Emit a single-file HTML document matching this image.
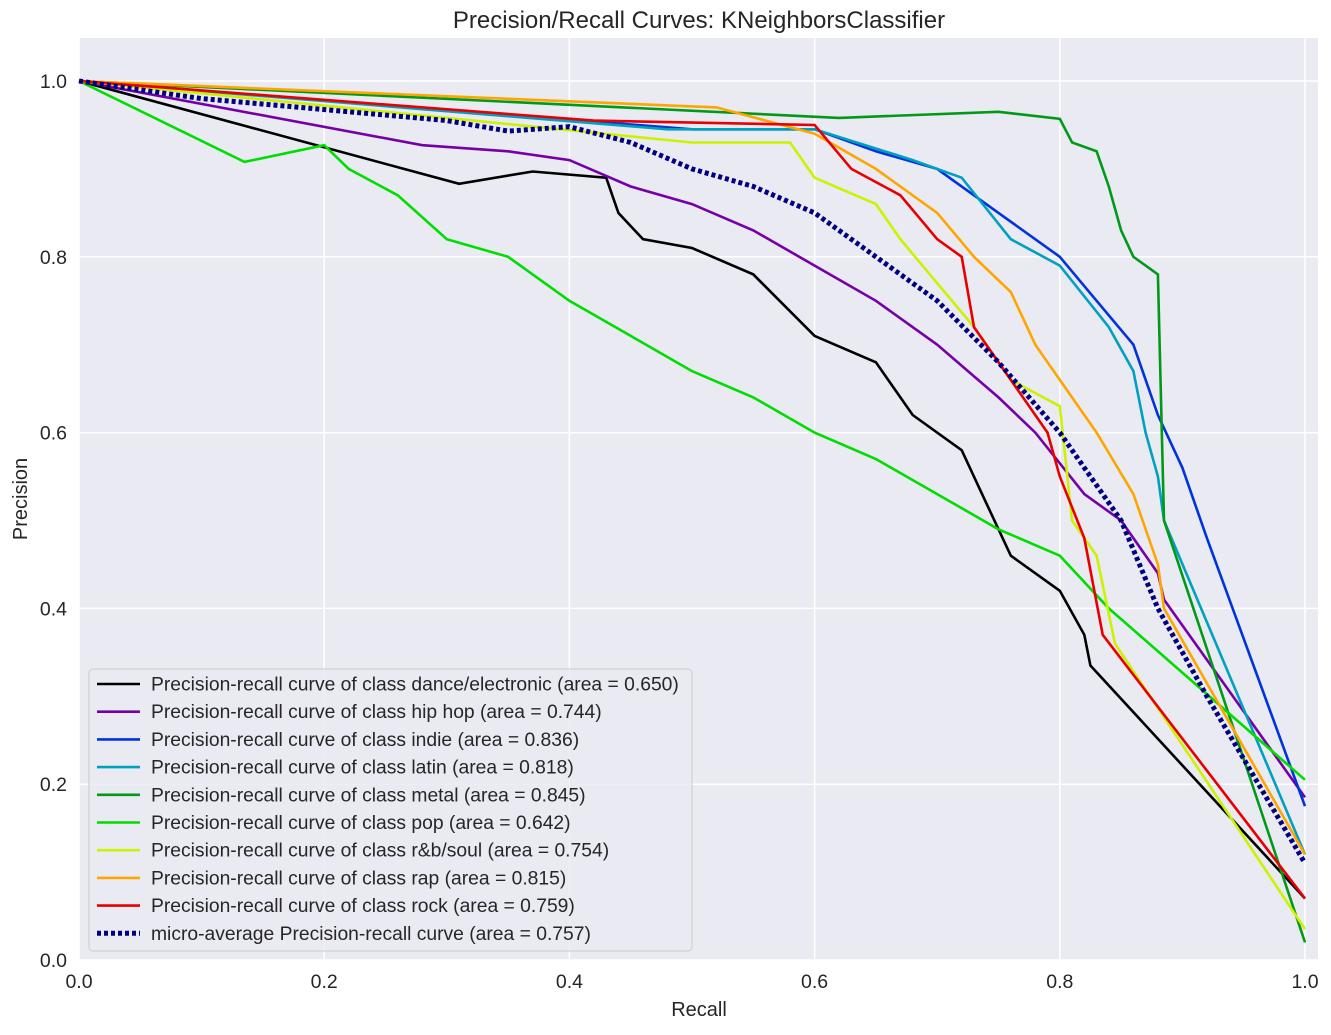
<!DOCTYPE html>
<html><head><meta charset="utf-8"><style>
body{margin:0;background:#fff;font-family:"Liberation Sans","DejaVu Sans",sans-serif}
svg text{font-family:"Liberation Sans","DejaVu Sans",sans-serif;fill:#262626}
</style></head><body>
<svg id="chart" width="1331" height="1030" xmlns="http://www.w3.org/2000/svg">
<rect width="1331" height="1030" fill="#fff"/>
<rect x="79" y="38" width="1239" height="922" fill="#eaeaf2"/>
<g id="grid"></g>
<g id="series"></g>
<text x="699" y="28" font-size="24" text-anchor="middle">Precision/Recall Curves: KNeighborsClassifier</text>
<text x="699" y="1016" font-size="20" text-anchor="middle">Recall</text>
<text transform="translate(27,499) rotate(-90)" font-size="20" text-anchor="middle">Precision</text>
<g id="ticks"></g>
<g id="legend"></g>
</svg>
<script>
const xTicks=[0,0.2,0.4,0.6,0.8,1.0];
const yTicks=[0,0.2,0.4,0.6,0.8,1.0];
const seriesNames=["dance/electronic","hip hop","indie","latin","metal","pop","r&b/soul","rap","rock"];
const seriesAreas=["0.650","0.744","0.836","0.818","0.845","0.642","0.754","0.815","0.759"];
const microArea="0.757";
const dance=[[0,1],[0.31,0.883],[0.37,0.897],[0.43,0.89],[0.44,0.85],[0.46,0.82],[0.5,0.81],[0.55,0.78],[0.6,0.71],[0.65,0.68],[0.68,0.62],[0.72,0.58],[0.74,0.52],[0.76,0.46],[0.8,0.42],[0.82,0.37],[0.825,0.335],[1.0,0.07]];
const hiphop=[[0,1],[0.28,0.927],[0.35,0.92],[0.4,0.91],[0.45,0.88],[0.5,0.86],[0.55,0.83],[0.6,0.79],[0.65,0.75],[0.7,0.70],[0.75,0.64],[0.78,0.6],[0.82,0.53],[0.85,0.5],[0.88,0.44],[0.885,0.41],[1.0,0.185]];
const indie=[[0,1],[0.5,0.945],[0.6,0.945],[0.65,0.92],[0.7,0.9],[0.75,0.85],[0.8,0.8],[0.83,0.75],[0.86,0.7],[0.88,0.62],[0.9,0.56],[0.92,0.48],[1.0,0.175]];
const latin=[[0,1],[0.48,0.945],[0.6,0.945],[0.68,0.91],[0.72,0.89],[0.76,0.82],[0.8,0.79],[0.84,0.72],[0.86,0.67],[0.87,0.6],[0.88,0.55],[0.885,0.5],[1.0,0.12]];
const metal=[[0,1],[0.62,0.958],[0.75,0.965],[0.8,0.957],[0.81,0.93],[0.83,0.92],[0.84,0.88],[0.85,0.83],[0.86,0.8],[0.88,0.78],[0.885,0.5],[1.0,0.02]];
const pop=[[0,1],[0.135,0.908],[0.2,0.927],[0.22,0.9],[0.26,0.87],[0.3,0.82],[0.35,0.8],[0.4,0.75],[0.45,0.71],[0.5,0.67],[0.55,0.64],[0.6,0.6],[0.65,0.57],[0.7,0.53],[0.75,0.49],[0.8,0.46],[0.84,0.4],[1.0,0.205]];
const rnb=[[0,1],[0.5,0.93],[0.58,0.93],[0.6,0.89],[0.65,0.86],[0.67,0.82],[0.7,0.77],[0.73,0.72],[0.76,0.66],[0.8,0.63],[0.81,0.5],[0.83,0.46],[0.845,0.36],[1.0,0.035]];
const rap=[[0,1],[0.52,0.97],[0.6,0.94],[0.65,0.9],[0.7,0.85],[0.73,0.8],[0.76,0.76],[0.78,0.7],[0.8,0.66],[0.83,0.6],[0.86,0.53],[0.88,0.45],[0.885,0.4],[1.0,0.12]];
const rock=[[0,1],[0.42,0.955],[0.6,0.95],[0.63,0.9],[0.67,0.87],[0.7,0.82],[0.72,0.8],[0.73,0.72],[0.76,0.66],[0.79,0.6],[0.8,0.55],[0.82,0.48],[0.835,0.37],[1.0,0.07]];
const micro=[[0,1],[0.1,0.98],[0.3,0.955],[0.35,0.943],[0.4,0.948],[0.45,0.93],[0.5,0.9],[0.55,0.88],[0.6,0.85],[0.65,0.8],[0.7,0.75],[0.75,0.68],[0.8,0.6],[0.85,0.5],[0.88,0.4],[0.92,0.3],[1.0,0.11]];
const allSeries=[dance,hiphop,indie,latin,metal,pop,rnb,rap,rock];
const colors=["#000000","#7600a8","#0033dd","#00a0c0","#009a18","#00dd00","#ccf200","#ffa500","#e80000"];

const NS="http://www.w3.org/2000/svg";
const X=v=>79+v*1226;
const Y=v=>960-v*879;
function mk(tag,attrs,parent){const e=document.createElementNS(NS,tag);for(const k in attrs)e.setAttribute(k,attrs[k]);parent.appendChild(e);return e;}
const grid=document.getElementById('grid'),ticks=document.getElementById('ticks'),ser=document.getElementById('series'),leg=document.getElementById('legend');
xTicks.forEach(t=>{
  const l=mk('line',{x1:X(t),x2:X(t),y1:38,y2:960,stroke:'#fff','stroke-width':1.5},grid);
  
  
  const tx=mk('text',{x:X(t),y:988,'font-size':19.5,'text-anchor':'middle'},ticks);
  tx.textContent=t.toFixed(1);
  
  
});
yTicks.forEach(t=>{
  const l=mk('line',{x1:79,x2:1318,y1:Y(t),y2:Y(t),stroke:'#fff','stroke-width':1.5},grid);
  
  
  const tx=mk('text',{x:67,y:Y(t)+7,'font-size':19.5,'text-anchor':'end'},ticks);
  tx.textContent=t.toFixed(1);
  
  
});
const pts=d=>d.map(p=>X(p[0]).toFixed(1)+','+Y(p[1]).toFixed(1)).join(' ');
allSeries.forEach((d,i)=>{
  const p=mk('polyline',{points:pts(d),fill:'none',stroke:colors[i],'stroke-width':2.6,'stroke-linejoin':'miter'},ser);
  
  
});
const mp=mk('polyline',{points:pts(micro),fill:'none',stroke:'#000080','stroke-width':5,'stroke-dasharray':'4,3'},ser);



const box=mk('rect',{x:89,y:669,width:603,height:282,rx:4,fill:'#eaeaf2',stroke:'#cccccc','stroke-width':1,'fill-opacity':0.85},leg);


const labels=seriesNames.map((n,i)=>'Precision-recall curve of class '+n+' (area = '+seriesAreas[i]+')');
labels.push('micro-average Precision-recall curve (area = '+microArea+')');
labels.forEach((lab,i)=>{
  const y=684+i*27.7;
  const isMicro=i===9;
  const ln=mk('line',{x1:97,x2:140,y1:y,y2:y,stroke:isMicro?'#000080':colors[i],'stroke-width':isMicro?5:2.6},leg);
  if(isMicro) ln.setAttribute('stroke-dasharray','4,3');
  
  
  const t=mk('text',{x:151,y:y+6.5,'font-size':19.3},leg);
  t.textContent=lab;
  
  
});
</script>
</body></html>
